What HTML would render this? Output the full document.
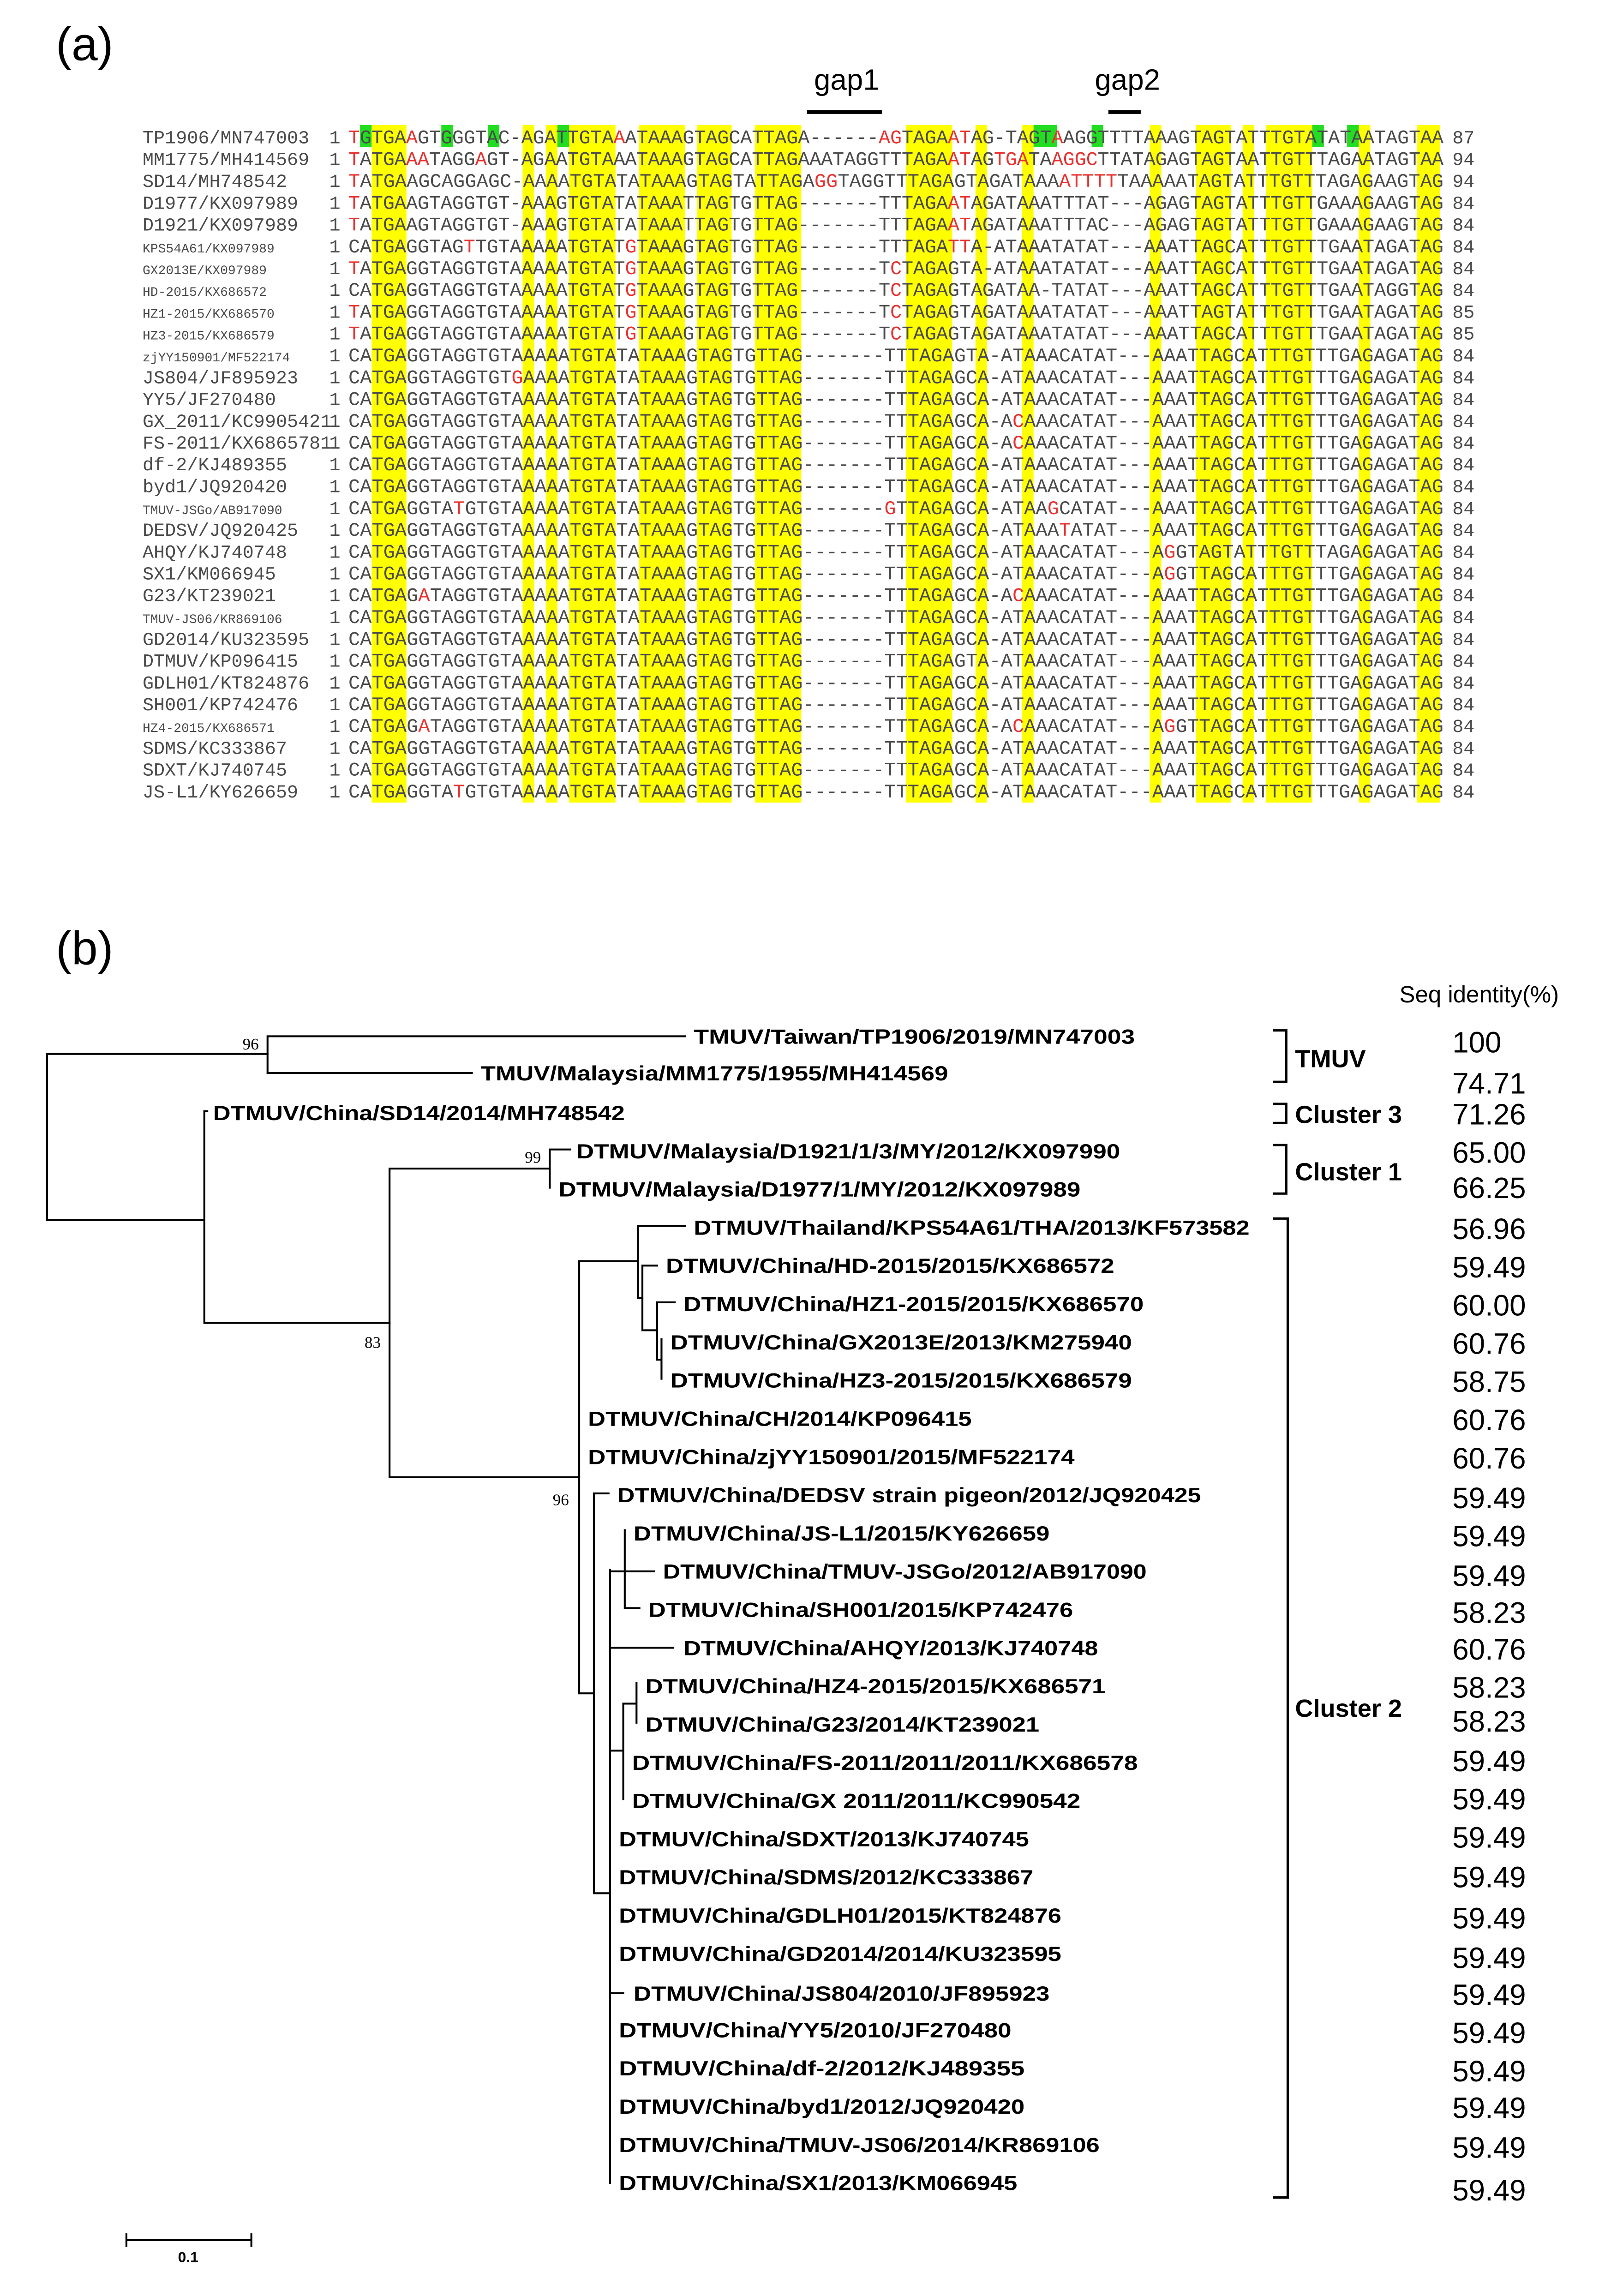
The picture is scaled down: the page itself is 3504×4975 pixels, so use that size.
<!DOCTYPE html>
<html><head><meta charset="utf-8"><style>
html,body{margin:0;padding:0;background:#fff;}
svg{display:block;}
.seq{font-family:"Liberation Mono",monospace;font-size:13.17px;fill:#4a4a4a;}
.lab{font-family:"Liberation Mono",monospace;font-size:12.6px;fill:#4a4a4a;}
.labs{font-family:"Liberation Mono",monospace;font-size:8.8px;fill:#4a4a4a;}
.r{fill:#e8312f;}
.tl{font-family:"Liberation Sans",Arial,sans-serif;font-weight:bold;font-size:14px;fill:#000;}
.id{font-family:"Liberation Sans",Arial,sans-serif;font-size:20px;fill:#000;}
.cl{font-family:"Liberation Sans",Arial,sans-serif;font-weight:bold;font-size:17px;fill:#000;}
.bs{font-family:"Liberation Serif",serif;font-size:11px;fill:#000;}
</style></head><body>
<svg width="3504" height="4975" viewBox="0 0 1100 1562" preserveAspectRatio="none" xmlns="http://www.w3.org/2000/svg">
<rect x="0" y="0" width="1100" height="1562" fill="#fff"/>
<text x="38" y="41" font-family="Liberation Sans,Arial,sans-serif" font-size="32">(a)</text>
<text x="38" y="656" font-family="Liberation Sans,Arial,sans-serif" font-size="32">(b)</text>
<text x="576" y="61" text-anchor="middle" font-family="Liberation Sans,Arial,sans-serif" font-size="20">gap1</text>
<text x="767" y="61" text-anchor="middle" font-family="Liberation Sans,Arial,sans-serif" font-size="20">gap2</text>
<rect x="549" y="75" width="51" height="2.5" fill="#000"/>
<rect x="754" y="75" width="22" height="2.5" fill="#000"/>

<g fill="#ffff00">
<rect x="252.8" y="85" width="23.7" height="461"/>
<rect x="355.5" y="85" width="7.9" height="461"/>
<rect x="371.3" y="85" width="7.9" height="461"/>
<rect x="387.1" y="85" width="31.6" height="461"/>
<rect x="434.5" y="85" width="31.6" height="461"/>
<rect x="474" y="85" width="23.7" height="461"/>
<rect x="513.5" y="85" width="31.6" height="461"/>
<rect x="616.2" y="85" width="31.6" height="461"/>
<rect x="663.6" y="85" width="7.9" height="461"/>
<rect x="695.2" y="85" width="7.9" height="461"/>
<rect x="782.1" y="85" width="7.9" height="461"/>
<rect x="813.7" y="85" width="23.7" height="461"/>
<rect x="845.3" y="85" width="7.9" height="461"/>
<rect x="861.1" y="85" width="31.6" height="461"/>
<rect x="924.3" y="85" width="7.9" height="461"/>
<rect x="963.8" y="85" width="15.8" height="461"/>
</g>
<g fill="#22dd22">
<rect x="244.9" y="85" width="7.9" height="15"/>
<rect x="300.2" y="85" width="7.9" height="15"/>
<rect x="331.8" y="85" width="7.9" height="15"/>
<rect x="379.2" y="85" width="7.9" height="15"/>
<rect x="703.1" y="85" width="15.8" height="15"/>
<rect x="742.6" y="85" width="7.9" height="15"/>
<rect x="892.7" y="85" width="7.9" height="15"/>
<rect x="916.4" y="85" width="7.9" height="15"/>
</g>

<g>
<text class="lab" x="97" y="97.5">TP1906/MN747003</text>
<text class="lab" x="97" y="112.3">MM1775/MH414569</text>
<text class="lab" x="97" y="127.2">SD14/MH748542</text>
<text class="lab" x="97" y="142">D1977/KX097989</text>
<text class="lab" x="97" y="156.8">D1921/KX097989</text>
<text class="labs" x="97" y="171.7">KPS54A61/KX097989</text>
<text class="labs" x="97" y="186.5">GX2013E/KX097989</text>
<text class="labs" x="97" y="201.3">HD-2015/KX686572</text>
<text class="labs" x="97" y="216.2">HZ1-2015/KX686570</text>
<text class="labs" x="97" y="231">HZ3-2015/KX686579</text>
<text class="labs" x="97" y="245.9">zjYY150901/MF522174</text>
<text class="lab" x="97" y="260.7">JS804/JF895923</text>
<text class="lab" x="97" y="275.5">YY5/JF270480</text>
<text class="lab" x="97" y="290.4">GX_2011/KC9905421</text>
<text class="lab" x="97" y="305.2">FS-2011/KX6865781</text>
<text class="lab" x="97" y="320">df-2/KJ489355</text>
<text class="lab" x="97" y="334.9">byd1/JQ920420</text>
<text class="labs" x="97" y="349.7">TMUV-JSGo/AB917090</text>
<text class="lab" x="97" y="364.5">DEDSV/JQ920425</text>
<text class="lab" x="97" y="379.4">AHQY/KJ740748</text>
<text class="lab" x="97" y="394.2">SX1/KM066945</text>
<text class="lab" x="97" y="409">G23/KT239021</text>
<text class="labs" x="97" y="423.9">TMUV-JS06/KR869106</text>
<text class="lab" x="97" y="438.7">GD2014/KU323595</text>
<text class="lab" x="97" y="453.5">DTMUV/KP096415</text>
<text class="lab" x="97" y="468.4">GDLH01/KT824876</text>
<text class="lab" x="97" y="483.2">SH001/KP742476</text>
<text class="labs" x="97" y="498">HZ4-2015/KX686571</text>
<text class="lab" x="97" y="512.9">SDMS/KC333867</text>
<text class="lab" x="97" y="527.7">SDXT/KJ740745</text>
<text class="lab" x="97" y="542.5">JS-L1/KY626659</text>
</g>
<g class="lab">
<text x="224" y="97.5">1</text><text x="224" y="112.3">1</text><text x="224" y="127.2">1</text><text x="224" y="142">1</text><text x="224" y="156.8">1</text><text x="224" y="171.7">1</text><text x="224" y="186.5">1</text><text x="224" y="201.3">1</text><text x="224" y="216.2">1</text><text x="224" y="231">1</text><text x="224" y="245.9">1</text><text x="224" y="260.7">1</text><text x="224" y="275.5">1</text><text x="224" y="290.4">1</text><text x="224" y="305.2">1</text><text x="224" y="320">1</text><text x="224" y="334.9">1</text><text x="224" y="349.7">1</text><text x="224" y="364.5">1</text><text x="224" y="379.4">1</text><text x="224" y="394.2">1</text><text x="224" y="409">1</text><text x="224" y="423.9">1</text><text x="224" y="438.7">1</text><text x="224" y="453.5">1</text><text x="224" y="468.4">1</text><text x="224" y="483.2">1</text><text x="224" y="498">1</text><text x="224" y="512.9">1</text><text x="224" y="527.7">1</text><text x="224" y="542.5">1</text>
<text x="988" y="97.5">87</text><text x="988" y="112.3">94</text><text x="988" y="127.2">94</text><text x="988" y="142">84</text><text x="988" y="156.8">84</text><text x="988" y="171.7">84</text><text x="988" y="186.5">84</text><text x="988" y="201.3">84</text><text x="988" y="216.2">85</text><text x="988" y="231">85</text><text x="988" y="245.9">84</text><text x="988" y="260.7">84</text><text x="988" y="275.5">84</text><text x="988" y="290.4">84</text><text x="988" y="305.2">84</text><text x="988" y="320">84</text><text x="988" y="334.9">84</text><text x="988" y="349.7">84</text><text x="988" y="364.5">84</text><text x="988" y="379.4">84</text><text x="988" y="394.2">84</text><text x="988" y="409">84</text><text x="988" y="423.9">84</text><text x="988" y="438.7">84</text><text x="988" y="453.5">84</text><text x="988" y="468.4">84</text><text x="988" y="483.2">84</text><text x="988" y="498">84</text><text x="988" y="512.9">84</text><text x="988" y="527.7">84</text><text x="988" y="542.5">84</text>
</g>

<g class="seq" xml:space="preserve">
<text x="237" y="97.5" textLength="745" lengthAdjust="spacing"><tspan class="r">T</tspan>GTGA<tspan class="r">A</tspan>GTGGGTAC-AGATTGTA<tspan class="r">A</tspan>ATAAAGTAGCATTAGA------<tspan class="r">AG</tspan>TAGA<tspan class="r">AT</tspan>AG-TAGT<tspan class="r">A</tspan>AGGTTTTAAAGTAGTATTTGTATATAATAGTAA</text>
<text x="237" y="112.3" textLength="745" lengthAdjust="spacing"><tspan class="r">T</tspan>ATGA<tspan class="r">AA</tspan>TAGG<tspan class="r">A</tspan>GT-AGAATGTAAATAAAGTAGCATTAGAAATAGGTTTAGA<tspan class="r">AT</tspan>AG<tspan class="r">TGA</tspan>TA<tspan class="r">AGGC</tspan>TTATAGAGTAGTAATTGTTTAGAATAGTAA</text>
<text x="237" y="127.2" textLength="745" lengthAdjust="spacing"><tspan class="r">T</tspan>ATGAAGCAGGAGC-AAAATGTATATAAAGTAGTATTAGA<tspan class="r">GG</tspan>TAGGTTTAGAGTAGATAAA<tspan class="r">ATTTT</tspan>TAAAAATAGTATTTGTTTAGAGAAGTAG</text>
<text x="237" y="142" textLength="745" lengthAdjust="spacing"><tspan class="r">T</tspan>ATGAAGTAGGTGT-AAAGTGTATATAAATTAGTGTTAG-------TTTAGA<tspan class="r">AT</tspan>AGATAAATTTAT---AGAGTAGTATTTGTTGAAAGAAGTAG</text>
<text x="237" y="156.8" textLength="745" lengthAdjust="spacing"><tspan class="r">T</tspan>ATGAAGTAGGTGT-AAAGTGTATATAAATTAGTGTTAG-------TTTAGA<tspan class="r">AT</tspan>AGATAAATTTAC---AGAGTAGTATTTGTTGAAAGAAGTAG</text>
<text x="237" y="171.7" textLength="745" lengthAdjust="spacing">CATGAGGTAG<tspan class="r">T</tspan>TGTAAAAATGTAT<tspan class="r">G</tspan>TAAAGTAGTGTTAG-------TTTAGA<tspan class="r">TT</tspan>A-ATAAATATAT---AAATTAGCATTTGTTTGAATAGATAG</text>
<text x="237" y="186.5" textLength="745" lengthAdjust="spacing"><tspan class="r">T</tspan>ATGAGGTAGGTGTAAAAATGTAT<tspan class="r">G</tspan>TAAAGTAGTGTTAG-------T<tspan class="r">C</tspan>TAGAGTA-ATAAATATAT---AAATTAGCATTTGTTTGAATAGATAG</text>
<text x="237" y="201.3" textLength="745" lengthAdjust="spacing">CATGAGGTAGGTGTAAAAATGTAT<tspan class="r">G</tspan>TAAAGTAGTGTTAG-------T<tspan class="r">C</tspan>TAGAGTAGATAA-TATAT---AAATTAGCATTTGTTTGAATAGGTAG</text>
<text x="237" y="216.2" textLength="745" lengthAdjust="spacing"><tspan class="r">T</tspan>ATGAGGTAGGTGTAAAAATGTAT<tspan class="r">G</tspan>TAAAGTAGTGTTAG-------T<tspan class="r">C</tspan>TAGAGTAGATAAATATAT---AAATTAGTATTTGTTTGAATAGATAG</text>
<text x="237" y="231" textLength="745" lengthAdjust="spacing"><tspan class="r">T</tspan>ATGAGGTAGGTGTAAAAATGTAT<tspan class="r">G</tspan>TAAAGTAGTGTTAG-------T<tspan class="r">C</tspan>TAGAGTAGATAAATATAT---AAATTAGCATTTGTTTGAATAGATAG</text>
<text x="237" y="245.9" textLength="745" lengthAdjust="spacing">CATGAGGTAGGTGTAAAAATGTATATAAAGTAGTGTTAG-------TTTAGAGTA-ATAAACATAT---AAATTAGCATTTGTTTGAGAGATAG</text>
<text x="237" y="260.7" textLength="745" lengthAdjust="spacing">CATGAGGTAGGTGT<tspan class="r">G</tspan>AAAATGTATATAAAGTAGTGTTAG-------TTTAGAGCA-ATAAACATAT---AAATTAGCATTTGTTTGAGAGATAG</text>
<text x="237" y="275.5" textLength="745" lengthAdjust="spacing">CATGAGGTAGGTGTAAAAATGTATATAAAGTAGTGTTAG-------TTTAGAGCA-ATAAACATAT---AAATTAGCATTTGTTTGAGAGATAG</text>
<text x="237" y="290.4" textLength="745" lengthAdjust="spacing">CATGAGGTAGGTGTAAAAATGTATATAAAGTAGTGTTAG-------TTTAGAGCA-A<tspan class="r">C</tspan>AAACATAT---AAATTAGCATTTGTTTGAGAGATAG</text>
<text x="237" y="305.2" textLength="745" lengthAdjust="spacing">CATGAGGTAGGTGTAAAAATGTATATAAAGTAGTGTTAG-------TTTAGAGCA-A<tspan class="r">C</tspan>AAACATAT---AAATTAGCATTTGTTTGAGAGATAG</text>
<text x="237" y="320" textLength="745" lengthAdjust="spacing">CATGAGGTAGGTGTAAAAATGTATATAAAGTAGTGTTAG-------TTTAGAGCA-ATAAACATAT---AAATTAGCATTTGTTTGAGAGATAG</text>
<text x="237" y="334.9" textLength="745" lengthAdjust="spacing">CATGAGGTAGGTGTAAAAATGTATATAAAGTAGTGTTAG-------TTTAGAGCA-ATAAACATAT---AAATTAGCATTTGTTTGAGAGATAG</text>
<text x="237" y="349.7" textLength="745" lengthAdjust="spacing">CATGAGGTA<tspan class="r">T</tspan>GTGTAAAAATGTATATAAAGTAGTGTTAG-------<tspan class="r">G</tspan>TTAGAGCA-ATAA<tspan class="r">G</tspan>CATAT---AAATTAGCATTTGTTTGAGAGATAG</text>
<text x="237" y="364.5" textLength="745" lengthAdjust="spacing">CATGAGGTAGGTGTAAAAATGTATATAAAGTAGTGTTAG-------TTTAGAGCA-ATAAA<tspan class="r">T</tspan>ATAT---AAATTAGCATTTGTTTGAGAGATAG</text>
<text x="237" y="379.4" textLength="745" lengthAdjust="spacing">CATGAGGTAGGTGTAAAAATGTATATAAAGTAGTGTTAG-------TTTAGAGCA-ATAAACATAT---A<tspan class="r">G</tspan>GTAGTATTTGTTTAGAGAGATAG</text>
<text x="237" y="394.2" textLength="745" lengthAdjust="spacing">CATGAGGTAGGTGTAAAAATGTATATAAAGTAGTGTTAG-------TTTAGAGCA-ATAAACATAT---A<tspan class="r">G</tspan>GTTAGCATTTGTTTGAGAGATAG</text>
<text x="237" y="409" textLength="745" lengthAdjust="spacing">CATGAG<tspan class="r">A</tspan>TAGGTGTAAAAATGTATATAAAGTAGTGTTAG-------TTTAGAGCA-A<tspan class="r">C</tspan>AAACATAT---AAATTAGCATTTGTTTGAGAGATAG</text>
<text x="237" y="423.9" textLength="745" lengthAdjust="spacing">CATGAGGTAGGTGTAAAAATGTATATAAAGTAGTGTTAG-------TTTAGAGCA-ATAAACATAT---AAATTAGCATTTGTTTGAGAGATAG</text>
<text x="237" y="438.7" textLength="745" lengthAdjust="spacing">CATGAGGTAGGTGTAAAAATGTATATAAAGTAGTGTTAG-------TTTAGAGCA-ATAAACATAT---AAATTAGCATTTGTTTGAGAGATAG</text>
<text x="237" y="453.5" textLength="745" lengthAdjust="spacing">CATGAGGTAGGTGTAAAAATGTATATAAAGTAGTGTTAG-------TTTAGAGTA-ATAAACATAT---AAATTAGCATTTGTTTGAGAGATAG</text>
<text x="237" y="468.4" textLength="745" lengthAdjust="spacing">CATGAGGTAGGTGTAAAAATGTATATAAAGTAGTGTTAG-------TTTAGAGCA-ATAAACATAT---AAATTAGCATTTGTTTGAGAGATAG</text>
<text x="237" y="483.2" textLength="745" lengthAdjust="spacing">CATGAGGTAGGTGTAAAAATGTATATAAAGTAGTGTTAG-------TTTAGAGCA-ATAAACATAT---AAATTAGCATTTGTTTGAGAGATAG</text>
<text x="237" y="498" textLength="745" lengthAdjust="spacing">CATGAG<tspan class="r">A</tspan>TAGGTGTAAAAATGTATATAAAGTAGTGTTAG-------TTTAGAGCA-A<tspan class="r">C</tspan>AAACATAT---A<tspan class="r">G</tspan>GTTAGCATTTGTTTGAGAGATAG</text>
<text x="237" y="512.9" textLength="745" lengthAdjust="spacing">CATGAGGTAGGTGTAAAAATGTATATAAAGTAGTGTTAG-------TTTAGAGCA-ATAAACATAT---AAATTAGCATTTGTTTGAGAGATAG</text>
<text x="237" y="527.7" textLength="745" lengthAdjust="spacing">CATGAGGTAGGTGTAAAAATGTATATAAAGTAGTGTTAG-------TTTAGAGCA-ATAAACATAT---AAATTAGCATTTGTTTGAGAGATAG</text>
<text x="237" y="542.5" textLength="745" lengthAdjust="spacing">CATGAGGTA<tspan class="r">T</tspan>GTGTAAAAATGTATATAAAGTAGTGTTAG-------TTTAGAGCA-ATAAACATAT---AAATTAGCATTTGTTTGAGAGATAG</text>
</g>

<g stroke="#000" stroke-width="1.3" fill="none" stroke-linecap="square">
<path d="M32 717 V830 M32 717 H182 M32 830 H139"/>
<path d="M182 705 V730 M182 705 H466 M182 730 H321"/>
<path d="M139 756 V900 M139 756 H141 M139 900 H265"/>
<path d="M265 795 V1005 M265 795 H374 M265 1005 H394"/>
<path d="M374 782 V808 M374 782 H388"/>
<path d="M394 858 V1152 M394 858 H434 M394 1152 H404"/>
<path d="M434 834 V883 M434 834 H466 M434 883 H437"/>
<path d="M437 861 V905 M437 861 H447 M437 905 H447"/>
<path d="M447 886 V925 M447 886 H459 M447 925 H450"/>
<path d="M450 911 V938"/>
<path d="M404 1016 V1288 M404 1016 H414 M404 1288 H415"/>
<path d="M415 1068 V1485 M415 1069 H445"/>
<path d="M425 1041 V1094 M425 1094 H435"/>
<path d="M415 1121 H458"/>
<path d="M415 1191 H424 M424 1159 V1224 M424 1159 H433 M433 1145 V1172"/>
<path d="M415 1356 H424"/>
<path d="M86 1524 H171 M86 1520 V1528 M171 1520 V1528"/>
</g>
<text class="bs" x="165" y="714">96</text>
<text class="bs" x="357" y="791">99</text>
<text class="bs" x="248" y="917">83</text>
<text class="bs" x="376" y="1024">96</text>
<text x="128" y="1539" text-anchor="middle" font-family="Liberation Sans,Arial,sans-serif" font-weight="bold" font-size="10">0.1</text>

<g class="tl">
<text x="472" y="710" textLength="300" lengthAdjust="spacingAndGlyphs">TMUV/Taiwan/TP1906/2019/MN747003</text>
<text x="327" y="735" textLength="318" lengthAdjust="spacingAndGlyphs">TMUV/Malaysia/MM1775/1955/MH414569</text>
<text x="145" y="762" textLength="280" lengthAdjust="spacingAndGlyphs">DTMUV/China/SD14/2014/MH748542</text>
<text x="392" y="788" textLength="370" lengthAdjust="spacingAndGlyphs">DTMUV/Malaysia/D1921/1/3/MY/2012/KX097990</text>
<text x="380" y="814" textLength="355" lengthAdjust="spacingAndGlyphs">DTMUV/Malaysia/D1977/1/MY/2012/KX097989</text>
<text x="472" y="840" textLength="378" lengthAdjust="spacingAndGlyphs">DTMUV/Thailand/KPS54A61/THA/2013/KF573582</text>
<text x="453" y="866" textLength="305" lengthAdjust="spacingAndGlyphs">DTMUV/China/HD-2015/2015/KX686572</text>
<text x="465" y="892" textLength="313" lengthAdjust="spacingAndGlyphs">DTMUV/China/HZ1-2015/2015/KX686570</text>
<text x="456" y="918" textLength="314" lengthAdjust="spacingAndGlyphs">DTMUV/China/GX2013E/2013/KM275940</text>
<text x="456" y="944" textLength="314" lengthAdjust="spacingAndGlyphs">DTMUV/China/HZ3-2015/2015/KX686579</text>
<text x="400" y="970" textLength="261" lengthAdjust="spacingAndGlyphs">DTMUV/China/CH/2014/KP096415</text>
<text x="400" y="996" textLength="331" lengthAdjust="spacingAndGlyphs">DTMUV/China/zjYY150901/2015/MF522174</text>
<text x="420" y="1022" textLength="397" lengthAdjust="spacingAndGlyphs">DTMUV/China/DEDSV strain pigeon/2012/JQ920425</text>
<text x="431" y="1048" textLength="283" lengthAdjust="spacingAndGlyphs">DTMUV/China/JS-L1/2015/KY626659</text>
<text x="451" y="1074" textLength="329" lengthAdjust="spacingAndGlyphs">DTMUV/China/TMUV-JSGo/2012/AB917090</text>
<text x="441" y="1100" textLength="289" lengthAdjust="spacingAndGlyphs">DTMUV/China/SH001/2015/KP742476</text>
<text x="465" y="1126" textLength="282" lengthAdjust="spacingAndGlyphs">DTMUV/China/AHQY/2013/KJ740748</text>
<text x="439" y="1152" textLength="313" lengthAdjust="spacingAndGlyphs">DTMUV/China/HZ4-2015/2015/KX686571</text>
<text x="439" y="1178" textLength="268" lengthAdjust="spacingAndGlyphs">DTMUV/China/G23/2014/KT239021</text>
<text x="430" y="1204" textLength="344" lengthAdjust="spacingAndGlyphs">DTMUV/China/FS-2011/2011/2011/KX686578</text>
<text x="430" y="1230" textLength="305" lengthAdjust="spacingAndGlyphs">DTMUV/China/GX 2011/2011/KC990542</text>
<text x="421" y="1256" textLength="279" lengthAdjust="spacingAndGlyphs">DTMUV/China/SDXT/2013/KJ740745</text>
<text x="421" y="1282" textLength="282" lengthAdjust="spacingAndGlyphs">DTMUV/China/SDMS/2012/KC333867</text>
<text x="421" y="1308" textLength="301" lengthAdjust="spacingAndGlyphs">DTMUV/China/GDLH01/2015/KT824876</text>
<text x="421" y="1334" textLength="301" lengthAdjust="spacingAndGlyphs">DTMUV/China/GD2014/2014/KU323595</text>
<text x="431" y="1361" textLength="283" lengthAdjust="spacingAndGlyphs">DTMUV/China/JS804/2010/JF895923</text>
<text x="421" y="1386" textLength="267" lengthAdjust="spacingAndGlyphs">DTMUV/China/YY5/2010/JF270480</text>
<text x="421" y="1412" textLength="276" lengthAdjust="spacingAndGlyphs">DTMUV/China/df-2/2012/KJ489355</text>
<text x="421" y="1438" textLength="276" lengthAdjust="spacingAndGlyphs">DTMUV/China/byd1/2012/JQ920420</text>
<text x="421" y="1464" textLength="327" lengthAdjust="spacingAndGlyphs">DTMUV/China/TMUV-JS06/2014/KR869106</text>
<text x="421" y="1490" textLength="271" lengthAdjust="spacingAndGlyphs">DTMUV/China/SX1/2013/KM066945</text>
</g>

<g stroke="#000" stroke-width="1.6" fill="none">
<path d="M866 701 H875 V736 H866"/>
<path d="M866 751 H875 V764 H866"/>
<path d="M866 779 H875 V812 H866"/>
<path d="M866 829 H876 V1495 H866"/>
</g>
<text class="cl" x="881" y="726">TMUV</text>
<text class="cl" x="881" y="764">Cluster 3</text>
<text class="cl" x="881" y="803">Cluster 1</text>
<text class="cl" x="881" y="1168">Cluster 2</text>

<text x="952" y="682" font-family="Liberation Sans,Arial,sans-serif" font-size="16">Seq identity(%)</text>
<g class="id">
<text x="988" y="716">100</text>
<text x="988" y="744">74.71</text>
<text x="988" y="765">71.26</text>
<text x="988" y="791">65.00</text>
<text x="988" y="815">66.25</text>
<text x="988" y="843">56.96</text>
<text x="988" y="869">59.49</text>
<text x="988" y="895">60.00</text>
<text x="988" y="921">60.76</text>
<text x="988" y="947">58.75</text>
<text x="988" y="973">60.76</text>
<text x="988" y="999">60.76</text>
<text x="988" y="1026">59.49</text>
<text x="988" y="1052">59.49</text>
<text x="988" y="1079">59.49</text>
<text x="988" y="1104">58.23</text>
<text x="988" y="1129">60.76</text>
<text x="988" y="1155">58.23</text>
<text x="988" y="1178">58.23</text>
<text x="988" y="1205">59.49</text>
<text x="988" y="1231">59.49</text>
<text x="988" y="1257">59.49</text>
<text x="988" y="1284">59.49</text>
<text x="988" y="1312">59.49</text>
<text x="988" y="1339">59.49</text>
<text x="988" y="1364">59.49</text>
<text x="988" y="1390">59.49</text>
<text x="988" y="1416">59.49</text>
<text x="988" y="1441">59.49</text>
<text x="988" y="1468">59.49</text>
<text x="988" y="1497">59.49</text>
</g>
</svg>
</body></html>
